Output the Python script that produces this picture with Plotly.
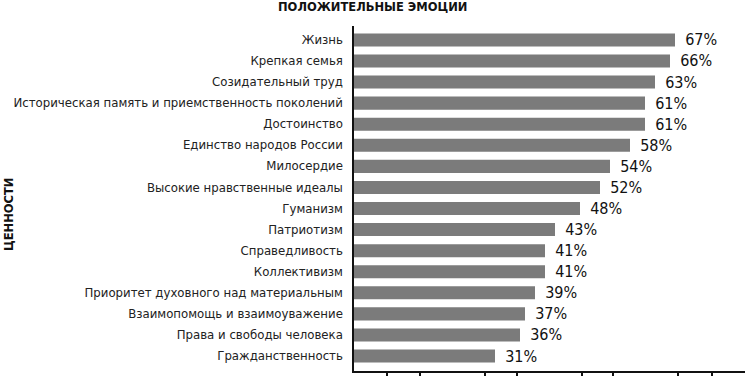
import plotly.graph_objects as go

CATEGORIES = [
    "Жизнь",
    "Крепкая семья",
    "Созидательный труд",
    "Историческая память и приемственность поколений",
    "Достоинство",
    "Единство народов России",
    "Милосердие",
    "Высокие нравственные идеалы",
    "Гуманизм",
    "Патриотизм",
    "Справедливость",
    "Коллективизм",
    "Приоритет духовного над материальным",
    "Взаимопомощь и взаимоуважение",
    "Права и свободы человека",
    "Гражданственность",
]
VALUES = [67, 66, 63, 61, 61, 58, 54, 52, 48, 43, 41, 41, 39, 37, 36, 31]
VALUE_LABELS = [f"{v}%" for v in VALUES]
X_TICKS = [9.4, 16, 29, 35.4, 48.4, 54.6, 67.6, 74.4]

TITLE = "ПОЛОЖИТЕЛЬНЫЕ ЭМОЦИИ"
Y_TITLE = "ЦЕННОСТИ"

fig = go.Figure(
    go.Bar(
        y=CATEGORIES,
        x=VALUES,
        orientation="h",
        marker=dict(color="#7b7b7b", line=dict(width=0)),
        text=["\u2002" + t for t in VALUE_LABELS],
        textposition="outside",
        constraintext="none",
        cliponaxis=False,
        textfont=dict(family="DejaVu Sans Condensed, DejaVu Sans", size=16, color="#111111"),
    )
)

n = len(CATEGORIES)
fig.update_layout(
    width=745,
    height=376,
    margin=dict(l=354, r=0, t=26, b=5, autoexpand=False),
    plot_bgcolor="white",
    paper_bgcolor="white",
    bargap=0.38,
    showlegend=False,
    xaxis=dict(
        range=[2.8, 81],
        automargin=False,
        showgrid=False,
        zeroline=False,
        showline=True,
        linecolor="#111111",
        linewidth=1.5,
        ticks="outside",
        ticklen=6,
        tickwidth=1.5,
        tickcolor="#111111",
        tickvals=X_TICKS,
        showticklabels=False,
    ),
    yaxis=dict(
        categoryorder="array",
        categoryarray=CATEGORIES,
        range=[n - 1 + 0.71, -0.66],
        automargin=False,
        showgrid=False,
        zeroline=False,
        showline=True,
        linecolor="#111111",
        linewidth=1.5,
        ticks="",
        ticklabelstandoff=7,
        tickfont=dict(family="DejaVu Sans", size=11.75, color="#222222"),
    ),
    annotations=[
        dict(
            text=f"<b>{TITLE}</b>",
            xref="paper", yref="paper",
            x=(372 - 354) / 391, y=1,
            yshift=19,
            xanchor="center", yanchor="middle",
            showarrow=False,
            font=dict(family="DejaVu Sans", size=11.5, color="#111111"),
        ),
        dict(
            text=f"<b>{Y_TITLE}</b>",
            xref="paper", yref="paper",
            x=(9 - 354) / 391, y=(371 - 215) / 345,
            xanchor="center", yanchor="middle",
            textangle=-90,
            showarrow=False,
            font=dict(family="DejaVu Sans", size=11.5, color="#111111"),
        ),
    ],
)

fig.write_html(
    "out.html",
    config={"displayModeBar": False},
    post_script="document.body.style.margin='0';document.body.style.padding='0';",
)
